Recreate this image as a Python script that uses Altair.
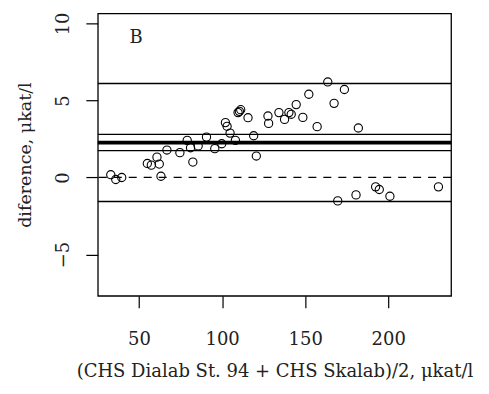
import altair as alt
import pandas as pd

# Bland-Altman points: mean of the two methods (x) vs difference (y)
mean_x = [33.0, 36.0, 39.6, 55.0, 57.4, 60.8, 62.2, 63.2, 66.8, 74.6,
          79.0, 81.0, 82.4, 85.6, 90.6, 95.6, 99.8, 102.0, 103.0, 104.8,
          108.0, 109.6, 111.2, 110.4, 115.6, 119.0, 120.6, 127.6, 128.0, 134.2,
          137.6, 140.2, 141.6, 144.6, 148.6, 152.2, 157.2, 163.6, 167.4, 173.6,
          182.0, 169.6, 180.6, 192.4, 194.6, 201.0, 230.2]
diff_y = [0.18, -0.13, 0.00, 0.91, 0.80, 1.32, 0.87, 0.08, 1.78, 1.61,
          2.41, 1.93, 1.00, 2.04, 2.62, 1.87, 2.19, 3.56, 3.32, 2.88,
          2.41, 4.21, 4.40, 4.29, 3.88, 2.71, 1.39, 3.99, 3.51, 4.21,
          3.77, 4.21, 4.10, 4.73, 3.90, 5.40, 3.30, 6.20, 4.81, 5.71,
          3.21, -1.52, -1.13, -0.61, -0.78, -1.22, -0.61]

thin_lines = [6.10, 2.80, 1.74, -1.56]
thick_lines = [2.26]
dashed_lines = [0.0]

x_ticks = [50, 100, 150, 200]
y_ticks = [-5, 0, 5, 10]
x_domain = [25.2, 237.8]
y_domain = [-7.68, 10.65]

panel_label = ["B"]
panel_pos_x = [48.2]
panel_pos_y = [9.04]

FONT = "DejaVu Serif"
TXT = "#222222"

pts = pd.DataFrame({"x": mean_x, "y": diff_y})
thin_df = pd.DataFrame({"y": thin_lines})
thick_df = pd.DataFrame({"y": thick_lines})
dash_df = pd.DataFrame({"y": dashed_lines})
lab_df = pd.DataFrame({"x": panel_pos_x, "y": panel_pos_y, "t": panel_label})

xscale = alt.Scale(domain=x_domain, nice=False, zero=False)
yscale = alt.Scale(domain=y_domain, nice=False, zero=False)

xaxis = alt.Axis(title="(CHS Dialab St. 94 + CHS Skalab)/2,  μkat/l",
                 values=x_ticks, grid=False, domain=False, tickSize=12,
                 tickWidth=1.2, tickColor="black",
                 labelFont=FONT, labelFontSize=18, labelColor=TXT,
                 labelPadding=23, labelFlush=False,
                 titleFont=FONT, titleFontSize=18, titleFontWeight="normal",
                 titleColor=TXT, titlePadding=14)
yaxis = alt.Axis(title="diference, μkat/l",
                 values=y_ticks, grid=False, domain=False, tickSize=12,
                 tickWidth=1.2, tickColor="black",
                 labelFont=FONT, labelFontSize=18, labelColor=TXT,
                 labelAngle=270, labelAlign="center", labelBaseline="bottom",
                 labelPadding=13, labelFlush=False,
                 titleFont=FONT, titleFontSize=17.5, titleFontWeight="normal",
                 titleColor=TXT, titlePadding=20)

X = alt.X("x:Q", scale=xscale, axis=xaxis)
Y = alt.Y("y:Q", scale=yscale, axis=yaxis)

thin = alt.Chart(thin_df).mark_rule(color="black", strokeWidth=1.3).encode(y=Y)
thick = alt.Chart(thick_df).mark_rule(color="black", strokeWidth=3.8).encode(y=Y)
dashed = alt.Chart(dash_df).mark_rule(color="black", strokeWidth=1.2,
                                      strokeDash=[8, 7]).encode(y=Y)
points = alt.Chart(pts).mark_point(shape="circle", filled=False, color="black",
                                   size=68, strokeWidth=1.1, opacity=1).encode(x=X, y=Y)
label = alt.Chart(lab_df).mark_text(font=FONT, fontSize=18, color=TXT,
                                    align="center", baseline="middle").encode(
    x=X, y=Y, text="t:N")

chart = alt.layer(thin, thick, dashed, points, label).properties(
    width=354, height=283,
    autosize=alt.AutoSizeParams(type="none"),
    padding={"left": 90, "top": 5, "right": 30, "bottom": 90},
).configure(background="white",
            view=alt.ViewConfig(stroke="black", strokeWidth=1.3))

chart.save("out.html", embed_options={"renderer": "svg", "actions": False})
